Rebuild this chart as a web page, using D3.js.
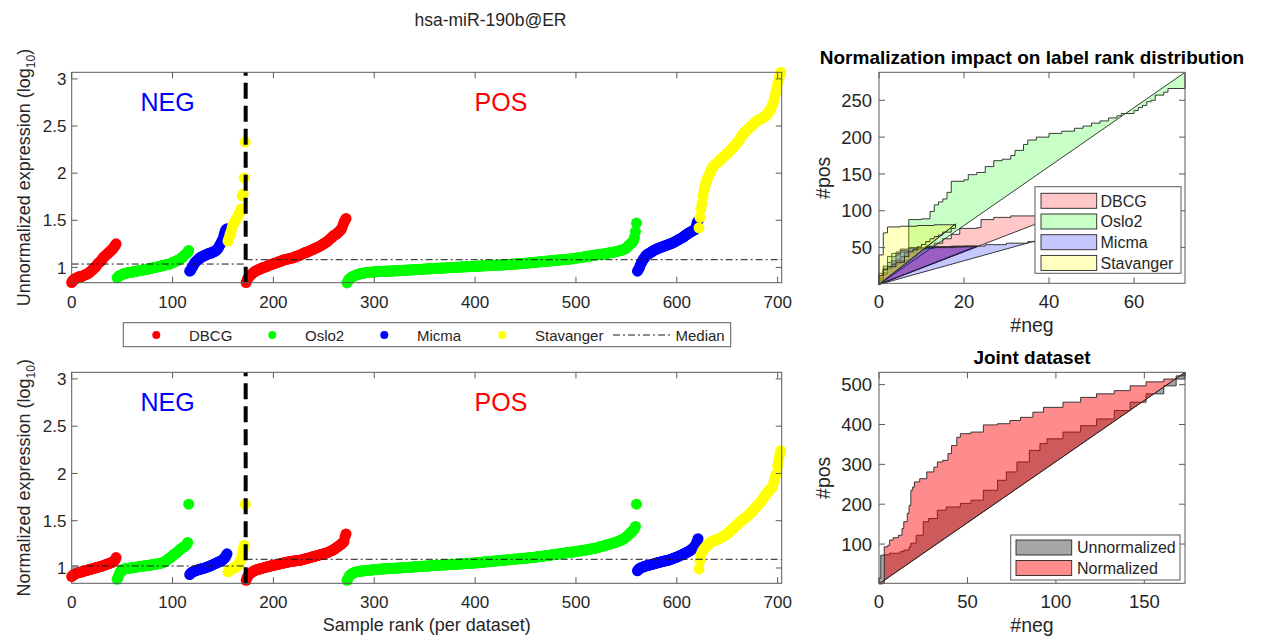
<!DOCTYPE html>
<html>
<head>
<meta charset="utf-8">
<script src="https://cdn.jsdelivr.net/npm/d3@7/dist/d3.min.js"></script>
<style>
  body { margin: 0; background: #ffffff; }
  svg { font-family: "Liberation Sans", Arial, Helvetica, sans-serif; }
</style>
</head>
<body>
<svg id="fig" width="1270" height="640"></svg>
<script>
// ---------------- data ----------------
const datasets = ["DBCG", "Oslo2", "Micma", "Stavanger"];
const dotColors = ["#ff0000", "#00ff00", "#0000ff", "#ffff00"];

// Sorted unnormalized expression (log10), ER-negative samples per dataset
const unnormNegDBCG = [
  0.84, 0.86, 0.87, 0.88, 0.88, 0.89, 0.89, 0.90, 0.90, 0.90,
  0.905, 0.91, 0.915, 0.92, 0.925, 0.93, 0.935, 0.94, 0.95, 0.96,
  0.97, 0.98, 0.99, 1.00, 1.01, 1.025, 1.04, 1.05, 1.06, 1.07,
  1.08, 1.10, 1.11, 1.12, 1.13, 1.14, 1.15, 1.16, 1.17, 1.18,
  1.19, 1.20, 1.22, 1.23, 1.25];
const unnormNegOslo2 = [
  0.89, 0.90, 0.91, 0.915, 0.92, 0.925, 0.93, 0.935, 0.935, 0.94,
  0.94, 0.945, 0.945, 0.95, 0.95, 0.95, 0.955, 0.955, 0.96, 0.96,
  0.96, 0.965, 0.965, 0.97, 0.97, 0.97, 0.975, 0.975, 0.98, 0.98,
  0.98, 0.985, 0.985, 0.99, 0.99, 0.995, 0.995, 1.00, 1.00, 1.005,
  1.005, 1.01, 1.01, 1.015, 1.015, 1.02, 1.02, 1.025, 1.025, 1.03,
  1.03, 1.035, 1.035, 1.04, 1.045, 1.05, 1.055, 1.06, 1.065, 1.07,
  1.075, 1.08, 1.085, 1.09, 1.10, 1.11, 1.12, 1.13, 1.14, 1.15,
  1.16, 1.18];
const unnormNegMicma = [
  0.96, 0.97, 0.99, 1.01, 1.03, 1.05, 1.06, 1.07, 1.08, 1.09,
  1.10, 1.11, 1.11, 1.12, 1.12, 1.13, 1.13, 1.14, 1.14, 1.15,
  1.15, 1.15, 1.16, 1.16, 1.17, 1.17, 1.18, 1.19, 1.20, 1.22,
  1.24, 1.26, 1.28, 1.30, 1.34, 1.38, 1.40, 1.41];
const unnormNegStavanger = [
  1.28, 1.31, 1.35, 1.38, 1.42, 1.45, 1.47, 1.49, 1.51, 1.53,
  1.55, 1.57, 1.59, 1.62, 1.76, 1.78, 1.95, 2.33];

// Sorted unnormalized expression (log10), ER-positive samples per dataset
const unnormPosDBCG = [
  0.84, 0.87, 0.89, 0.905, 0.915, 0.925, 0.935, 0.945, 0.95, 0.96,
  0.965, 0.97, 0.975, 0.98, 0.985, 0.99, 0.995, 1.00, 1.00, 1.005,
  1.01, 1.015, 1.02, 1.025, 1.03, 1.03, 1.035, 1.04, 1.045, 1.045,
  1.05, 1.055, 1.06, 1.06, 1.065, 1.07, 1.075, 1.08, 1.08, 1.085,
  1.085, 1.09, 1.09, 1.095, 1.095, 1.10, 1.10, 1.105, 1.11, 1.115,
  1.12, 1.12, 1.125, 1.13, 1.135, 1.14, 1.145, 1.15, 1.155, 1.16,
  1.16, 1.165, 1.17, 1.175, 1.18, 1.185, 1.19, 1.195, 1.20, 1.205,
  1.21, 1.215, 1.22, 1.225, 1.23, 1.24, 1.245, 1.25, 1.26, 1.265,
  1.27, 1.28, 1.29, 1.30, 1.31, 1.32, 1.33, 1.34, 1.345, 1.35,
  1.36, 1.37, 1.38, 1.39, 1.40, 1.42, 1.45, 1.48, 1.50, 1.52];
const unnormPosOslo2 = [
  0.835, 0.86, 0.875, 0.885, 0.893, 0.90, 0.905, 0.91, 0.915, 0.919,
  0.922, 0.926, 0.93, 0.932, 0.935, 0.937, 0.939, 0.941, 0.943, 0.945,
  0.946, 0.947, 0.948, 0.949, 0.950, 0.951, 0.952, 0.953, 0.954, 0.955,
  0.955, 0.956, 0.956, 0.957, 0.957, 0.958, 0.958, 0.959, 0.959, 0.960,
  0.960, 0.961, 0.961, 0.962, 0.962, 0.963, 0.963, 0.964, 0.964, 0.965,
  0.965, 0.966, 0.966, 0.967, 0.968, 0.968, 0.969, 0.970, 0.970, 0.971,
  0.972, 0.972, 0.973, 0.974, 0.974, 0.975, 0.976, 0.976, 0.977, 0.978,
  0.978, 0.979, 0.980, 0.980, 0.981, 0.982, 0.982, 0.983, 0.984, 0.984,
  0.985, 0.986, 0.986, 0.987, 0.987, 0.988, 0.989, 0.989, 0.990, 0.990,
  0.991, 0.992, 0.992, 0.993, 0.993, 0.994, 0.995, 0.995, 0.996, 0.996,
  0.997, 0.997, 0.998, 0.999, 0.999, 1.000, 1.000, 1.001, 1.002, 1.002,
  1.003, 1.003, 1.004, 1.004, 1.005, 1.006, 1.006, 1.007, 1.007, 1.008,
  1.008, 1.009, 1.009, 1.010, 1.010, 1.011, 1.012, 1.012, 1.013, 1.013,
  1.014, 1.014, 1.015, 1.015, 1.016, 1.016, 1.017, 1.018, 1.018, 1.019,
  1.019, 1.020, 1.020, 1.021, 1.021, 1.022, 1.023, 1.023, 1.024, 1.024,
  1.025, 1.025, 1.026, 1.026, 1.027, 1.027, 1.028, 1.029, 1.029, 1.030,
  1.030, 1.031, 1.032, 1.033, 1.033, 1.034, 1.035, 1.036, 1.037, 1.038,
  1.039, 1.040, 1.040, 1.041, 1.042, 1.043, 1.044, 1.045, 1.046, 1.047,
  1.048, 1.049, 1.050, 1.051, 1.052, 1.053, 1.054, 1.055, 1.056, 1.057,
  1.058, 1.059, 1.060, 1.061, 1.062, 1.063, 1.064, 1.065, 1.066, 1.067,
  1.068, 1.069, 1.070, 1.071, 1.072, 1.073, 1.074, 1.075, 1.076, 1.077,
  1.078, 1.079, 1.080, 1.081, 1.082, 1.083, 1.084, 1.085, 1.086, 1.087,
  1.088, 1.089, 1.090, 1.091, 1.092, 1.094, 1.096, 1.098, 1.100, 1.102,
  1.103, 1.105, 1.106, 1.108, 1.110, 1.111, 1.113, 1.115, 1.116, 1.118,
  1.120, 1.122, 1.123, 1.125, 1.127, 1.129, 1.131, 1.133, 1.135, 1.137,
  1.138, 1.139, 1.140, 1.141, 1.142, 1.143, 1.145, 1.147, 1.150, 1.152,
  1.154, 1.156, 1.158, 1.160, 1.162, 1.164, 1.166, 1.168, 1.170, 1.173,
  1.176, 1.179, 1.182, 1.186, 1.190, 1.195, 1.200, 1.206, 1.215, 1.230,
  1.24, 1.25, 1.26, 1.27, 1.28, 1.32, 1.38, 1.47];
const unnormPosMicma = [
  0.96, 0.98, 1.00, 1.03, 1.05, 1.07, 1.09, 1.10, 1.12, 1.13,
  1.14, 1.145, 1.15, 1.16, 1.165, 1.17, 1.18, 1.185, 1.19, 1.195,
  1.20, 1.204, 1.208, 1.212, 1.216, 1.22, 1.224, 1.228, 1.232, 1.236,
  1.24, 1.244, 1.248, 1.252, 1.256, 1.26, 1.266, 1.272, 1.278, 1.284,
  1.29, 1.296, 1.302, 1.308, 1.314, 1.32, 1.328, 1.336, 1.344, 1.352,
  1.36, 1.366, 1.372, 1.378, 1.384, 1.39, 1.395, 1.40, 1.43, 1.47,
  1.49];
const unnormPosStavanger = [
  1.42, 1.53, 1.62, 1.68, 1.76, 1.82, 1.87, 1.90, 1.93, 1.96,
  1.98, 2.00, 2.03, 2.05, 2.07, 2.08, 2.09, 2.10, 2.11, 2.12,
  2.13, 2.14, 2.15, 2.16, 2.17, 2.18, 2.19, 2.20, 2.21, 2.22,
  2.23, 2.24, 2.25, 2.26, 2.28, 2.29, 2.30, 2.31, 2.32, 2.34,
  2.35, 2.37, 2.39, 2.40, 2.42, 2.43, 2.44, 2.45, 2.46, 2.47,
  2.48, 2.49, 2.50, 2.51, 2.52, 2.53, 2.54, 2.55, 2.56, 2.565,
  2.57, 2.575, 2.58, 2.585, 2.59, 2.60, 2.61, 2.62, 2.63, 2.645,
  2.66, 2.68, 2.70, 2.73, 2.76, 2.80, 2.85, 2.90, 2.95, 2.99,
  3.03, 3.07];

// Sorted normalized expression (log10), ER-negative samples per dataset
const normNegDBCG = [
  0.91, 0.92, 0.93, 0.935, 0.94, 0.945, 0.95, 0.95, 0.955, 0.955,
  0.96, 0.963, 0.966, 0.969, 0.972, 0.975, 0.978, 0.981, 0.984, 0.987,
  0.99, 0.993, 0.996, 0.999, 1.002, 1.005, 1.008, 1.011, 1.014, 1.017,
  1.02, 1.024, 1.028, 1.032, 1.036, 1.04, 1.044, 1.048, 1.052, 1.056,
  1.06, 1.065, 1.07, 1.085, 1.11];
const normNegOslo2 = [
  0.88, 0.90, 0.93, 0.955, 0.97, 0.978, 0.985, 0.988, 0.991, 0.993,
  0.995, 0.997, 0.998, 1.000, 1.001, 1.003, 1.005, 1.006, 1.008, 1.009,
  1.011, 1.012, 1.014, 1.015, 1.017, 1.019, 1.020, 1.022, 1.023, 1.025,
  1.026, 1.028, 1.029, 1.031, 1.032, 1.034, 1.036, 1.038, 1.040, 1.042,
  1.044, 1.046, 1.048, 1.050, 1.052, 1.055, 1.06, 1.065, 1.07, 1.08,
  1.09, 1.097, 1.104, 1.11, 1.12, 1.13, 1.14, 1.147, 1.154, 1.16,
  1.17, 1.18, 1.19, 1.20, 1.21, 1.215, 1.22, 1.23, 1.24, 1.25,
  1.27, 1.675];
const normNegMicma = [
  0.93, 0.945, 0.952, 0.96, 0.964, 0.968, 0.972, 0.976, 0.98, 0.983,
  0.986, 0.989, 0.992, 0.995, 0.998, 1.00, 1.004, 1.008, 1.012, 1.016,
  1.02, 1.025, 1.03, 1.035, 1.04, 1.045, 1.05, 1.055, 1.06, 1.065,
  1.07, 1.075, 1.08, 1.09, 1.10, 1.11, 1.13, 1.15];
const normNegStavanger = [
  0.96, 0.97, 0.98, 0.985, 0.99, 0.995, 1.00, 1.005, 1.01, 1.02,
  1.03, 1.05, 1.07, 1.10, 1.14, 1.20, 1.24, 1.675];

// Sorted normalized expression (log10), ER-positive samples per dataset
const normPosDBCG = [
  0.87, 0.90, 0.92, 0.935, 0.943, 0.95, 0.958, 0.965, 0.97, 0.975,
  0.98, 0.983, 0.986, 0.989, 0.992, 0.995, 0.998, 1.001, 1.004, 1.007,
  1.01, 1.013, 1.015, 1.018, 1.02, 1.023, 1.025, 1.028, 1.03, 1.033,
  1.035, 1.037, 1.04, 1.042, 1.045, 1.047, 1.05, 1.052, 1.055, 1.057,
  1.06, 1.062, 1.064, 1.066, 1.068, 1.07, 1.071, 1.073, 1.074, 1.076,
  1.077, 1.078, 1.079, 1.08, 1.083, 1.086, 1.089, 1.092, 1.095, 1.098,
  1.10, 1.103, 1.106, 1.109, 1.112, 1.115, 1.118, 1.121, 1.124, 1.127,
  1.13, 1.133, 1.136, 1.139, 1.142, 1.145, 1.148, 1.151, 1.154, 1.157,
  1.16, 1.165, 1.17, 1.175, 1.18, 1.185, 1.19, 1.197, 1.204, 1.211,
  1.22, 1.227, 1.234, 1.241, 1.25, 1.26, 1.27, 1.28, 1.33, 1.36];
const normPosOslo2 = [
  0.87, 0.89, 0.91, 0.925, 0.933, 0.94, 0.945, 0.95, 0.955, 0.958,
  0.961, 0.963, 0.965, 0.966, 0.967, 0.968, 0.969, 0.970, 0.972, 0.973,
  0.975, 0.976, 0.977, 0.978, 0.979, 0.980, 0.981, 0.982, 0.983, 0.984,
  0.985, 0.986, 0.987, 0.988, 0.989, 0.990, 0.990, 0.991, 0.992, 0.992,
  0.993, 0.994, 0.994, 0.995, 0.996, 0.996, 0.997, 0.998, 0.998, 0.999,
  0.999, 1.000, 1.000, 1.001, 1.002, 1.003, 1.003, 1.004, 1.005, 1.006,
  1.006, 1.007, 1.008, 1.009, 1.009, 1.010, 1.011, 1.012, 1.012, 1.013,
  1.014, 1.015, 1.015, 1.016, 1.017, 1.018, 1.018, 1.019, 1.020, 1.021,
  1.021, 1.022, 1.023, 1.024, 1.024, 1.025, 1.026, 1.026, 1.027, 1.028,
  1.028, 1.029, 1.030, 1.030, 1.031, 1.032, 1.032, 1.033, 1.034, 1.034,
  1.035, 1.036, 1.036, 1.037, 1.038, 1.038, 1.039, 1.040, 1.040, 1.041,
  1.042, 1.042, 1.043, 1.044, 1.044, 1.045, 1.046, 1.046, 1.047, 1.048,
  1.048, 1.049, 1.050, 1.050, 1.051, 1.052, 1.053, 1.054, 1.055, 1.056,
  1.057, 1.058, 1.059, 1.060, 1.061, 1.062, 1.063, 1.064, 1.065, 1.066,
  1.067, 1.068, 1.069, 1.070, 1.071, 1.072, 1.073, 1.074, 1.075, 1.076,
  1.077, 1.078, 1.079, 1.080, 1.081, 1.082, 1.083, 1.084, 1.085, 1.086,
  1.087, 1.088, 1.089, 1.090, 1.091, 1.092, 1.093, 1.094, 1.095, 1.096,
  1.097, 1.098, 1.099, 1.100, 1.101, 1.102, 1.103, 1.104, 1.105, 1.106,
  1.107, 1.108, 1.109, 1.110, 1.111, 1.112, 1.113, 1.115, 1.116, 1.118,
  1.119, 1.121, 1.122, 1.124, 1.125, 1.127, 1.128, 1.130, 1.131, 1.133,
  1.134, 1.136, 1.137, 1.139, 1.140, 1.142, 1.143, 1.145, 1.146, 1.148,
  1.149, 1.151, 1.152, 1.154, 1.155, 1.157, 1.158, 1.160, 1.161, 1.163,
  1.164, 1.166, 1.167, 1.169, 1.170, 1.172, 1.173, 1.175, 1.176, 1.178,
  1.179, 1.181, 1.182, 1.184, 1.185, 1.187, 1.189, 1.191, 1.193, 1.195,
  1.197, 1.199, 1.201, 1.203, 1.205, 1.207, 1.209, 1.212, 1.215, 1.218,
  1.221, 1.224, 1.227, 1.230, 1.233, 1.236, 1.239, 1.242, 1.245, 1.248,
  1.251, 1.254, 1.257, 1.260, 1.263, 1.266, 1.270, 1.274, 1.278, 1.282,
  1.286, 1.290, 1.295, 1.300, 1.306, 1.313, 1.320, 1.33, 1.34, 1.35,
  1.36, 1.37, 1.38, 1.39, 1.40, 1.42, 1.44, 1.675];
const normPosMicma = [
  0.97, 0.985, 0.993, 1.00, 1.005, 1.009, 1.012, 1.016, 1.02, 1.023,
  1.026, 1.029, 1.032, 1.035, 1.038, 1.04, 1.043, 1.046, 1.049, 1.052,
  1.055, 1.058, 1.061, 1.064, 1.067, 1.07, 1.072, 1.074, 1.076, 1.078,
  1.08, 1.084, 1.088, 1.092, 1.096, 1.10, 1.104, 1.108, 1.112, 1.116,
  1.12, 1.125, 1.13, 1.135, 1.14, 1.145, 1.15, 1.155, 1.16, 1.166,
  1.172, 1.178, 1.184, 1.19, 1.20, 1.21, 1.22, 1.235, 1.25, 1.28,
  1.31];
const normPosStavanger = [
  0.99, 1.08, 1.14, 1.17, 1.185, 1.20, 1.215, 1.225, 1.24, 1.25,
  1.26, 1.27, 1.275, 1.28, 1.285, 1.29, 1.295, 1.30, 1.303, 1.306,
  1.31, 1.316, 1.322, 1.328, 1.334, 1.34, 1.346, 1.353, 1.36, 1.37,
  1.38, 1.39, 1.40, 1.41, 1.42, 1.43, 1.44, 1.45, 1.46, 1.47,
  1.48, 1.489, 1.498, 1.507, 1.516, 1.525, 1.533, 1.54, 1.55, 1.56,
  1.57, 1.58, 1.59, 1.60, 1.615, 1.63, 1.64, 1.65, 1.66, 1.672,
  1.684, 1.696, 1.71, 1.725, 1.74, 1.755, 1.77, 1.79, 1.80, 1.81,
  1.825, 1.84, 1.85, 1.86, 1.90, 1.95, 1.98, 2.00, 2.08, 2.14,
  2.20, 2.24];

// Median expression of the NEG and POS groups
const medianUnnorm = [1.036, 1.082];
const medianNorm = [1.021, 1.092];

// Label-rank curves (#neg, #pos) per dataset: unnormalized and normalized ranking
const rankDBCG = [[0,0],[0,15],[1,22],[3,28],[5,32],[7,44],[9,48],[11,52],[13,56],[15,62],
  [17,68],[19,76],[23,77],[24,88],[27,91],[31,93],[37,95],[41,97],[45,100]];
const rankDBCG2 = [[0,0],[0,10],[1,16],[2,22],[3,27],[4,33],[5,38],[6,43],[8,47],[10,49],
  [13,51],[17,52],[21,52],[23,52]];
const rankOslo2 = [[0,0],[0,5],[1,25],[2,38],[3,42],[5,44],[7,45],[7,88],[10,89],[12,99],
  [13,108],[14,112],[15,116],[16,125],[17,140],[20,142],[21,149],[23,152],[25,160],[27,168],
  [29,170],[31,175],[32,182],[34,190],[35,196],[37,200],[40,205],[43,208],[46,212],[48,215],
  [50,219],[52,222],[54,226],[56,229],[57,232],[60,236],[61,240],[62,243],[63,248],[64,250],
  [65,257],[67,261],[68,266],[72,270],[72,288]];
const rankMicma = [[0,0],[0,8],[1,20],[2,30],[3,38],[4,44],[5,48],[7,50],[11,51],[20,52],
  [25,54],[30,56],[35,58],[37,59],[38,61]];
const rankMicma2 = [[0,0],[0,6],[1,14],[2,24],[3,32],[4,40],[5,46],[7,49],[11,50],[18,51],
  [23,51]];
const rankStavanger = [[0,0],[0,40],[1,70],[2,78],[5,79],[9,80],[13,81],[18,82]];
const rankStavanger2 = [[0,0],[0,12],[1,20],[2,24],[4,30],[6,38],[7,45],[8,47],[9,51],[10,54],
  [11,58],[12,62],[13,65],[14,67],[15,71],[17,76],[18,82]];

// Label-rank curves of the joint dataset
const jointUnnorm = [[0,0],[0,14],[1,72],[3,73],[6,77],[12,81],[14,85],[17,93],[18,102],[21,122],
  [25,156],[28,164],[33,185],[38,193],[46,202],[52,210],[59,235],[67,260],[72,281],[78,306],
  [85,335],[91,352],[95,364],[104,381],[114,397],[123,414],[133,435],[142,456],[151,477],
  [161,497],[168,514],[173,531]];
const jointNorm = [[0,0],[2,2],[3,93],[5,97],[6,110],[8,116],[11,122],[13,139],[14,156],[16,177],
  [17,197],[18,235],[19,243],[20,256],[23,264],[27,281],[31,293],[33,306],[36,310],[39,327],
  [41,347],[44,368],[46,377],[52,381],[59,399],[67,402],[74,410],[80,418],[87,431],[93,443],
  [104,456],[114,468],[123,477],[133,485],[142,497],[151,507],[161,514],[168,522],[173,531]];

const xTicksRank = [0, 100, 200, 300, 400, 500, 600, 700];
const yTicksExpr = [1, 1.5, 2, 2.5, 3];
const xTicksNeg = [0, 20, 40, 60];
const yTicksPos = [50, 100, 150, 200, 250];
const xTicksJoint = [0, 50, 100, 150];
const yTicksJoint = [100, 200, 300, 400, 500];

// ---------------- drawing ----------------
const svg = d3.select("#fig");
const ink = "#262626";
const frameColor = "#5a5a5a";
const TICK = 6;

function drawFrame(g, xs, ys, xVals, yVals, fmt, fs, xLabOff, yLabX) {
  const [x0, x1] = xs.range();
  const [y1, y0] = ys.range();
  g.append("rect").attr("x", x0).attr("y", y0).attr("width", x1 - x0).attr("height", y1 - y0)
    .attr("fill", "none").attr("stroke", frameColor).attr("stroke-width", 1);
  xVals.forEach(v => {
    const p = xs(v);
    g.append("line").attr("x1", p).attr("x2", p).attr("y1", y1).attr("y2", y1 - TICK).attr("stroke", frameColor);
    g.append("line").attr("x1", p).attr("x2", p).attr("y1", y0).attr("y2", y0 + TICK).attr("stroke", frameColor);
    g.append("text").attr("x", p).attr("y", y1 + xLabOff).attr("text-anchor", "middle")
      .style("font-size", fs + "px").attr("fill", ink).text(fmt(v));
  });
  yVals.forEach(v => {
    const p = ys(v);
    g.append("line").attr("x1", x0).attr("x2", x0 + TICK).attr("y1", p).attr("y2", p).attr("stroke", frameColor);
    g.append("line").attr("x1", x1).attr("x2", x1 - TICK).attr("y1", p).attr("y2", p).attr("stroke", frameColor);
    g.append("text").attr("x", yLabX).attr("y", p).attr("dy", "0.36em").attr("text-anchor", "end")
      .style("font-size", fs + "px").attr("fill", ink).text(fmt(v));
  });
}

const negCountsList = [unnormNegDBCG, unnormNegOslo2, unnormNegMicma, unnormNegStavanger].map(a => a.length);
const nNeg = d3.sum(negCountsList);

function scatterPanel(top, bottom, negGroups, posGroups, medians, yName, withXLabel) {
  const g = svg.append("g");
  const xs = d3.scaleLinear().domain([0, 704]).range([71.7, 781.7]);
  const ys = d3.scaleLinear().domain([0.838, 3.07]).range([bottom, top]);

  // sample points, ranked within each dataset
  let negStart = 0, posStart = nNeg;
  datasets.forEach((name, i) => {
    const pts = negGroups[i].map((v, k) => [negStart + k, v])
      .concat(posGroups[i].map((v, k) => [posStart + k, v]));
    negStart += negGroups[i].length;
    posStart += posGroups[i].length;
    g.append("g").selectAll("circle").data(pts).join("circle")
      .attr("cx", d => xs(d[0])).attr("cy", d => ys(d[1])).attr("r", 5.5)
      .attr("fill", dotColors[i]);
  });

  // group medians
  const split = nNeg - 0.5;
  [[0, split, medians[0]], [split, 704, medians[1]]].forEach(([a, b, m]) => {
    g.append("line").attr("x1", xs(a)).attr("x2", xs(b)).attr("y1", ys(m)).attr("y2", ys(m))
      .attr("stroke", "#1a1a1a").attr("stroke-width", 1).attr("stroke-dasharray", "7,3,2,3");
  });

  // NEG / POS boundary, dashed from the bottom up
  g.append("line").attr("x1", xs(split)).attr("x2", xs(split)).attr("y1", bottom).attr("y2", top)
    .attr("stroke", "#000").attr("stroke-width", 4).attr("stroke-dasharray", "16,7");

  g.append("text").attr("x", 167.5).attr("y", top + 38.7).attr("text-anchor", "middle")
    .style("font-size", "25px").attr("fill", "#0000ff").text("NEG");
  g.append("text").attr("x", 501).attr("y", top + 38.7).attr("text-anchor", "middle")
    .style("font-size", "25px").attr("fill", "#ff0000").text("POS");

  drawFrame(g, xs, ys, xTicksRank, yTicksExpr, d3.format("~g"), 17, 25, 66.5);

  const t = g.append("text")
    .attr("transform", `translate(30,${(top + bottom) / 2}) rotate(-90)`)
    .attr("text-anchor", "middle").style("font-size", "18px").attr("fill", ink);
  t.append("tspan").text(yName + " (log");
  t.append("tspan").text("10").style("font-size", "12px").attr("dy", 5);
  t.append("tspan").text(")").attr("dy", -5);

  if (withXLabel) {
    g.append("text").attr("x", 426.7).attr("y", 630.5).attr("text-anchor", "middle")
      .style("font-size", "18px").attr("fill", ink).text("Sample rank (per dataset)");
  }
}

svg.append("text").attr("x", 490.5).attr("y", 26).attr("text-anchor", "middle")
  .style("font-size", "17.5px").attr("fill", ink).text("hsa-miR-190b@ER");

scatterPanel(72.3, 282.7,
  [unnormNegDBCG, unnormNegOslo2, unnormNegMicma, unnormNegStavanger],
  [unnormPosDBCG, unnormPosOslo2, unnormPosMicma, unnormPosStavanger],
  medianUnnorm, "Unnormalized expression", false);
scatterPanel(372.3, 583.3,
  [normNegDBCG, normNegOslo2, normNegMicma, normNegStavanger],
  [normPosDBCG, normPosOslo2, normPosMicma, normPosStavanger],
  medianNorm, "Normalized expression", true);

// legend shared by the two scatter panels
{
  const lg = svg.append("g");
  lg.append("rect").attr("x", 123.3).attr("y", 322.7).attr("width", 607.4).attr("height", 24)
    .attr("fill", "#fff").attr("stroke", frameColor);
  const dotX = [156.3, 272.3, 384.3, 502.3];
  const textX = [189, 305, 417, 535];
  datasets.forEach((name, i) => {
    lg.append("circle").attr("cx", dotX[i]).attr("cy", 335).attr("r", 4).attr("fill", dotColors[i]);
    lg.append("text").attr("x", textX[i]).attr("y", 340.5).style("font-size", "15px")
      .attr("fill", ink).text(name);
  });
  lg.append("line").attr("x1", 613).attr("x2", 673).attr("y1", 335).attr("y2", 335)
    .attr("stroke", "#1a1a1a").attr("stroke-dasharray", "7,3,2,3");
  lg.append("text").attr("x", 675.5).attr("y", 340.5).style("font-size", "15px")
    .attr("fill", ink).text("Median");
}

// curves: list of {pts, c} where c indexes fills / alphas
function rankPanel(top, bottom, xMax, yMax, curves, fills, alphas, xTicks, yTicks, title, legend) {
  const g = svg.append("g");
  const xs = d3.scaleLinear().domain([0, xMax]).range([879, 1185]);
  const ys = d3.scaleLinear().domain([1.5, yMax]).range([bottom, top]);
  const stepLine = d3.line().x(d => xs(d[0])).y(d => ys(d[1])).curve(d3.curveStepAfter);
  curves.forEach(({ pts, c }) => {
    g.append("path").attr("d", stepLine(pts) + "Z")
      .attr("fill", fills[c]).attr("fill-opacity", alphas[c])
      .attr("stroke", "#262626").attr("stroke-width", 0.9).attr("stroke-linejoin", "miter");
  });
  drawFrame(g, xs, ys, xTicks, yTicks, d3.format("~g"), 18.5, 25, 872);
  g.append("text").attr("x", 1032).attr("y", top - 8).attr("text-anchor", "middle")
    .style("font-size", "19px").style("font-weight", "bold").attr("fill", "#000").text(title);
  g.append("text").attr("transform", `translate(829.5,${(top + bottom) / 2}) rotate(-90)`)
    .attr("text-anchor", "middle").style("font-size", "19.5px").attr("fill", ink).text("#pos");
  g.append("text").attr("x", 1032).attr("y", bottom + 49).attr("text-anchor", "middle")
    .style("font-size", "19.5px").attr("fill", ink).text("#neg");

  const lg = g.append("g");
  lg.append("rect").attr("x", legend.x0).attr("y", legend.y0).attr("width", legend.x1 - legend.x0)
    .attr("height", legend.y1 - legend.y0).attr("fill", "#fff").attr("stroke", frameColor);
  legend.names.forEach((name, i) => {
    const cy = legend.rowY[i];
    lg.append("rect").attr("x", legend.sx0).attr("y", cy - 7.5).attr("width", legend.sx1 - legend.sx0)
      .attr("height", 15).attr("fill", fills[i]).attr("fill-opacity", alphas[i])
      .attr("stroke", "#262626").attr("stroke-width", 0.9);
    lg.append("text").attr("x", legend.tx).attr("y", cy + 5.8).style("font-size", "16px")
      .attr("fill", ink).text(name);
  });
}

rankPanel(72.3, 283.3, 72, 288,
  [{ pts: rankDBCG, c: 0 }, { pts: rankDBCG2, c: 0 },
   { pts: rankOslo2, c: 1 },
   { pts: rankMicma, c: 2 }, { pts: rankMicma2, c: 2 },
   { pts: rankStavanger, c: 3 }, { pts: rankStavanger2, c: 3 }],
  ["#ff0000", "#00ff00", "#0000ff", "#ffff00"], [0.22, 0.22, 0.22, 0.25],
  xTicksNeg, yTicksPos, "Normalization impact on label rank distribution",
  { x0: 1035, x1: 1181, y0: 186.7, y1: 273.3, sx0: 1041, sx1: 1096.7, tx: 1100.5,
    rowY: [200.8, 221.5, 242.2, 262.9], names: datasets });

rankPanel(372.3, 583.3, 173, 531,
  [{ pts: jointUnnorm, c: 0 }, { pts: jointNorm, c: 1 }],
  ["#000000", "#ff0000"], [0.35, 0.45],
  xTicksJoint, yTicksJoint, "Joint dataset",
  { x0: 1010.7, x1: 1180, y0: 535, y1: 580, sx0: 1016, sx1: 1071.7, tx: 1077,
    rowY: [547.5, 568], names: ["Unnormalized", "Normalized"] });
</script>
</body>
</html>
